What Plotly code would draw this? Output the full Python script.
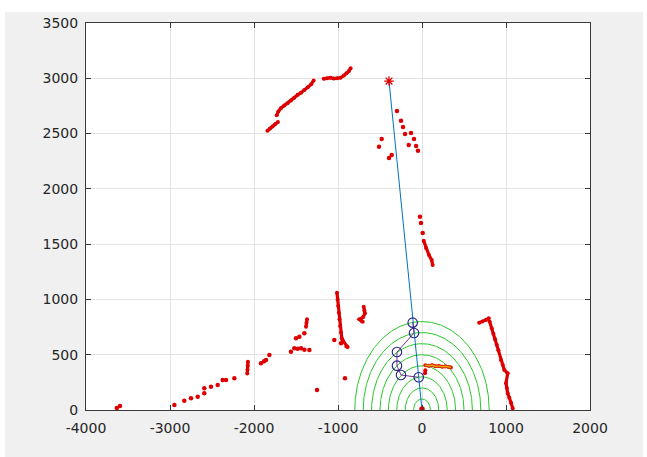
import numpy as np
import plotly.graph_objects as go

# ---------------- data ----------------
# isolated red scan points
red_x = [-298, -250, -226, -202, -131, -95, -71, -48, -158, -480, -512, -393, -361,
         -24, -12, 8,
         -3633, -3595, -2948, -2830, -2750, -2670, -2592, -2592, -2512, -2432, -2373, -2333, -2234,
         -1917, -1880, -1857, -1817,
         -1560, -1520, -1480, -1440, -1400, -1341,
         -1500, -1460, -1401,
         -1250, -917, -1044, -964]
red_y = [2704, 2616, 2559, 2496, 2505, 2450, 2387, 2345, 2396, 2450, 2381, 2279, 2306,
         1748, 1691, 1600,
         18, 36, 45, 84, 106, 120, 151, 196, 211, 226, 271, 271, 287,
         422, 440, 452, 497,
         527, 558, 555, 558, 545, 542,
         648, 663, 693,
         181, 287, 633, 603]

# continuous red scan segments (None separates segments)
seg_x = [-1840, -1810, -1780, -1750, -1715, None,
         -1730, -1710, -1680, -1640, -1600, -1560, -1520, -1480, -1440, -1400, -1360, -1320, -1290, None,
         -1170, -1130, -1090, -1050, -1010, -970, -930, -900, -870, -850, None,
         20, 48, 83, 115, 127, None,
         680, 720, 760, 795, None,
         805, 830, 850, 870, 890, 910, 940, 960, 980, 1020, 1000, 1010, 1020, 1040, 1060, 1080, None,
         -1012, -1005, -998, -990, -982, -975, -965, -955, -944, -900, -885, None,
         -2080, -2077, -2075, -2072, None,
         -1381, -1375, -1369, None,
         -694, -686, -679, -700, -746, -720, -706]
seg_y = [2525, 2545, 2565, 2585, 2605, None,
         2665, 2700, 2730, 2755, 2775, 2800, 2825, 2850, 2870, 2895, 2920, 2945, 2980, None,
         2995, 3000, 3005, 2998, 3000, 3005, 3025, 3045, 3065, 3090, None,
         1530, 1465, 1401, 1356, 1311, None,
         790, 800, 815, 830, None,
         800, 740, 690, 640, 590, 540, 452, 410, 362, 332, 241, 200, 151, 110, 65, 15, None,
         1060, 1000, 940, 880, 820, 760, 700, 650, 630, 575, 570, None,
         330, 365, 400, 437, None,
         753, 790, 820, None,
         934, 900, 874, 840, 820, 805, 799]

orange_x = [40, 80, 120, 160, 200, 240, 280, 320, 345]
orange_y = [405, 400, 405, 395, 398, 392, 395, 390, 385]
orange_tail_x = [36, 40]
orange_tail_y = [332, 360]

star_x = [-393]
star_y = [2975]

path_x = [-393, -111, -95, -39, 0]
path_y = [2975, 790, 696, 296, 0]

node_x = [-111, -95, -298, -298, -250, -39]
node_y = [790, 696, 524, 401, 316, 296]

origin_x = [0]
origin_y = [10]

arc_radii = [100, 200, 300, 400, 500, 600, 700, 800]

x_ticks = [-4000, -3000, -2000, -1000, 0, 1000, 2000]
y_ticks = [0, 500, 1000, 1500, 2000, 2500, 3000, 3500]

RED = "rgb(222,0,0)"

# ---------------- figure ----------------
fig = go.Figure()

theta = np.linspace(0, np.pi, 181)
for r in arc_radii:
    fig.add_trace(go.Scatter(x=r * np.cos(theta), y=r * np.sin(theta), mode="lines",
                             line=dict(color="rgb(40,200,40)", width=1), hoverinfo="skip"))

fig.add_trace(go.Scatter(x=seg_x, y=seg_y, mode="lines+markers", connectgaps=False,
                         line=dict(color=RED, width=3.2), marker=dict(color=RED, size=4)))
fig.add_trace(go.Scatter(x=red_x, y=red_y, mode="markers",
                         marker=dict(color=RED, size=4.5)))
fig.add_trace(go.Scatter(x=orange_x, y=orange_y, mode="lines+markers",
                         line=dict(color="rgb(220,40,0)", width=3.2),
                         marker=dict(color="rgb(220,40,0)", size=4)))
fig.add_trace(go.Scatter(x=orange_x, y=orange_y, mode="lines",
                         line=dict(color="rgb(235,175,0)", width=1.2)))
fig.add_trace(go.Scatter(x=orange_tail_x, y=orange_tail_y, mode="lines+markers",
                         line=dict(color=RED, width=3), marker=dict(color=RED, size=4)))

fig.add_trace(go.Scatter(x=path_x, y=path_y, mode="lines",
                         line=dict(color="#0072bd", width=1)))
fig.add_trace(go.Scatter(x=node_x, y=node_y, mode="lines",
                         line=dict(color="#7e2f8e", width=1)))
fig.add_trace(go.Scatter(x=node_x, y=node_y, mode="markers",
                         marker=dict(symbol="circle-open", color="#20208a", size=9.5,
                                     line=dict(width=1.1))))
fig.add_trace(go.Scatter(x=origin_x, y=origin_y, mode="markers",
                         marker=dict(color=RED, size=5.5)))
fig.add_trace(go.Scatter(x=star_x, y=star_y, mode="markers",
                         marker=dict(symbol="asterisk-open", color=RED, size=8,
                                     line=dict(width=1.3, color=RED))))

L, R, T, B = 86, 57, 23, 47
W, H = 647, 457
pw, ph = W - L - R, H - T - B

def px(xp):
    return (xp - L) / pw

def py(yp):
    return (H - B - yp) / ph

fig.add_shape(type="rect", xref="paper", yref="paper",
              x0=px(5), x1=px(643), y0=py(470), y1=py(12),
              fillcolor="#f0f0f0", line=dict(width=0), layer="below")
fig.add_shape(type="rect", xref="paper", yref="paper",
              x0=0, x1=1, y0=0, y1=1,
              fillcolor="white", line=dict(width=0), layer="below")

axis_common = dict(showgrid=True, gridcolor="#e3e3e3", gridwidth=1,
                   showline=True, linecolor="#3a3a3a", linewidth=1, mirror="ticks",
                   ticks="inside", ticklen=5, tickcolor="#3a3a3a",
                   zeroline=False, tickfont=dict(family="DejaVu Sans", size=14, color="#262626"))

fig.update_xaxes(range=[-4000, 2000], tickvals=x_ticks, ticktext=[str(v) for v in x_ticks],
                 ticklabelstandoff=5, **axis_common)
fig.update_yaxes(range=[0, 3500], tickvals=y_ticks, ticktext=[str(v) for v in y_ticks],
                 ticklabelstandoff=4, **axis_common)

fig.update_layout(width=W, height=H, margin=dict(l=L, r=R, t=T, b=B),
                  paper_bgcolor="white", plot_bgcolor="white", showlegend=False)

fig.write_html("out.html")
